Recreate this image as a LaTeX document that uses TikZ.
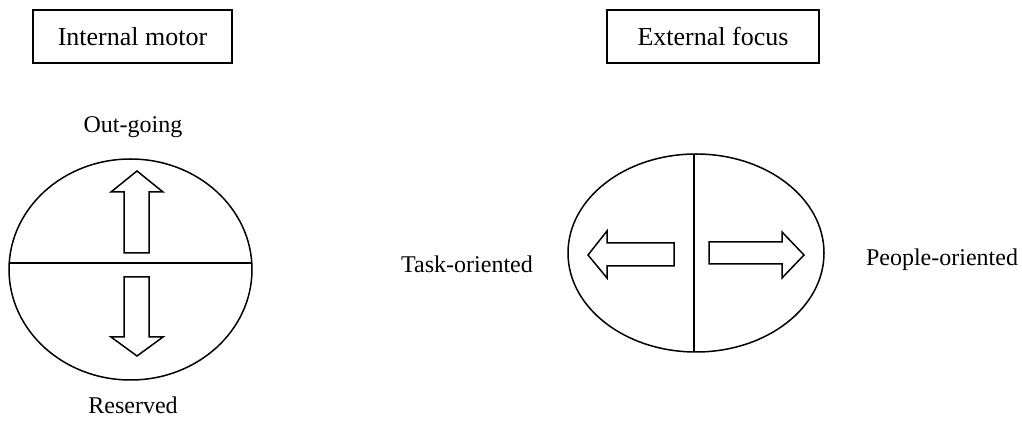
\documentclass[tikz,border=0pt]{standalone}
\usepackage{fontspec}
\setmainfont{Liberation Serif}
\begin{document}
\begin{tikzpicture}[x=0.5pt,y=-0.5pt,line width=0.75pt,
  lbl/.style={font=\fontsize{12}{14}\selectfont, inner sep=0pt},
  titlebox/.style={draw, font=\fontsize{13}{15}\selectfont, inner sep=0pt, minimum width=99.5pt, minimum height=26.5pt},
  blockarrow/.style={draw, line join=miter}]
\useasboundingbox (0,0) rectangle (1022,426);
% titles
\node[titlebox] (im) at (132.5,36.5) {Internal motor};
\node[titlebox, minimum width=106pt] (ef) at (713,36.5) {External focus};
% left figure
\node[lbl] (out) at (133,127) {Out-going};
\node[lbl] (res) at (133,405) {Reserved};
\draw (130.5,269.5) ellipse [x radius=121.5, y radius=110.5];
\coordinate (hl) at (9.2,263);
\coordinate (hr) at (251.8,263);
\draw (hl) -- (hr);
\draw[blockarrow] (137,171) -- (163,192) -- (149,192) -- (149,253) -- (124,253) -- (124,192) -- (111,192) -- cycle;
\draw[blockarrow] (137,356) -- (163,337) -- (149,337) -- (149,277) -- (124,277) -- (124,337) -- (111,337) -- cycle;
% right figure
\draw (696,253) ellipse [x radius=128, y radius=99];
\coordinate (vt) at (694,154);
\coordinate (vb) at (694,352);
\draw (vt) -- (vb);
\draw[blockarrow] (588,255) -- (607,231) -- (607,243) -- (674,243) -- (674,266) -- (607,266) -- (607,278) -- cycle;
\draw[blockarrow] (804,255) -- (782,232) -- (782,242) -- (709,242) -- (709,264) -- (782,264) -- (782,278) -- cycle;
\node[lbl] (task) at (467,264) {Task-oriented};
\node[lbl] (people) at (942,260) {People-oriented};
\end{tikzpicture}
\end{document}
